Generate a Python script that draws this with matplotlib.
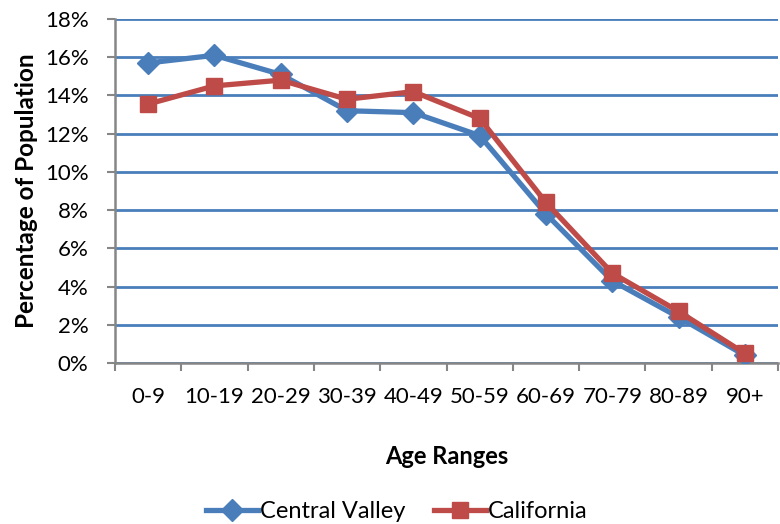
import matplotlib
matplotlib.use('Agg')
import matplotlib.pyplot as plt
from matplotlib.ticker import FixedLocator

age_ranges = ["0-9", "10-19", "20-29", "30-39", "40-49", "50-59",
              "60-69", "70-79", "80-89", "90+"]
central_valley = [15.7, 16.1, 15.1, 13.2, 13.1, 11.9, 7.8, 4.3, 2.4, 0.4]
california = [13.55, 14.5, 14.8, 13.8, 14.2, 12.8, 8.4, 4.7, 2.7, 0.5]

plt.rcParams['font.family'] = ['Lato', 'DejaVu Sans']

fig = plt.figure(figsize=(7.8, 5.24), dpi=100)
ax = fig.add_axes([115 / 780, 1 - 363 / 524, 663 / 780, 344 / 524])

x = list(range(len(age_ranges)))
ax.plot(x, central_valley, color='#4A7EBB', lw=3.8, marker='D', ms=11,
        label='Central Valley', zorder=3)
ax.plot(x, california, color='#BE4B48', lw=3.8, marker='s', ms=12,
        label='California', zorder=4)

ax.set_xlim(-0.5, len(age_ranges) - 0.5)
ax.set_ylim(0, 18)
ax.set_yticks(range(0, 19, 2))
ax.set_yticklabels([f"{v}%" for v in range(0, 19, 2)], fontsize=16)
ax.set_xticks(x)
ax.set_xticklabels(age_ranges, fontsize=16)
ax.xaxis.set_minor_locator(FixedLocator([i - 0.5 for i in range(len(age_ranges) + 1)]))
ax.tick_params(axis='x', which='major', length=0, pad=17)
ax.tick_params(axis='x', which='minor', length=6, width=1.5, color='#868686')
ax.tick_params(axis='y', length=6, width=1.5, color='#868686', pad=13)

ax.yaxis.grid(True, color='#4A7EBB', lw=2)
ax.set_axisbelow(True)
for side in ['top', 'right']:
    ax.spines[side].set_visible(False)
for side in ['left', 'bottom']:
    ax.spines[side].set_color('#868686')
    ax.spines[side].set_linewidth(1.8)

ax.set_xlabel('Age Ranges', fontsize=17, fontweight='bold', labelpad=28)
ax.set_ylabel('Percentage of Population', fontsize=17.5, fontweight='bold', labelpad=5)

fig.legend(loc='center', bbox_to_anchor=(397 / 780, 1 - 512 / 524), ncol=2, frameon=False,
           fontsize=17, handlelength=2.2, handletextpad=0.1, columnspacing=1.2)

fig.savefig('out.png', dpi=100)
